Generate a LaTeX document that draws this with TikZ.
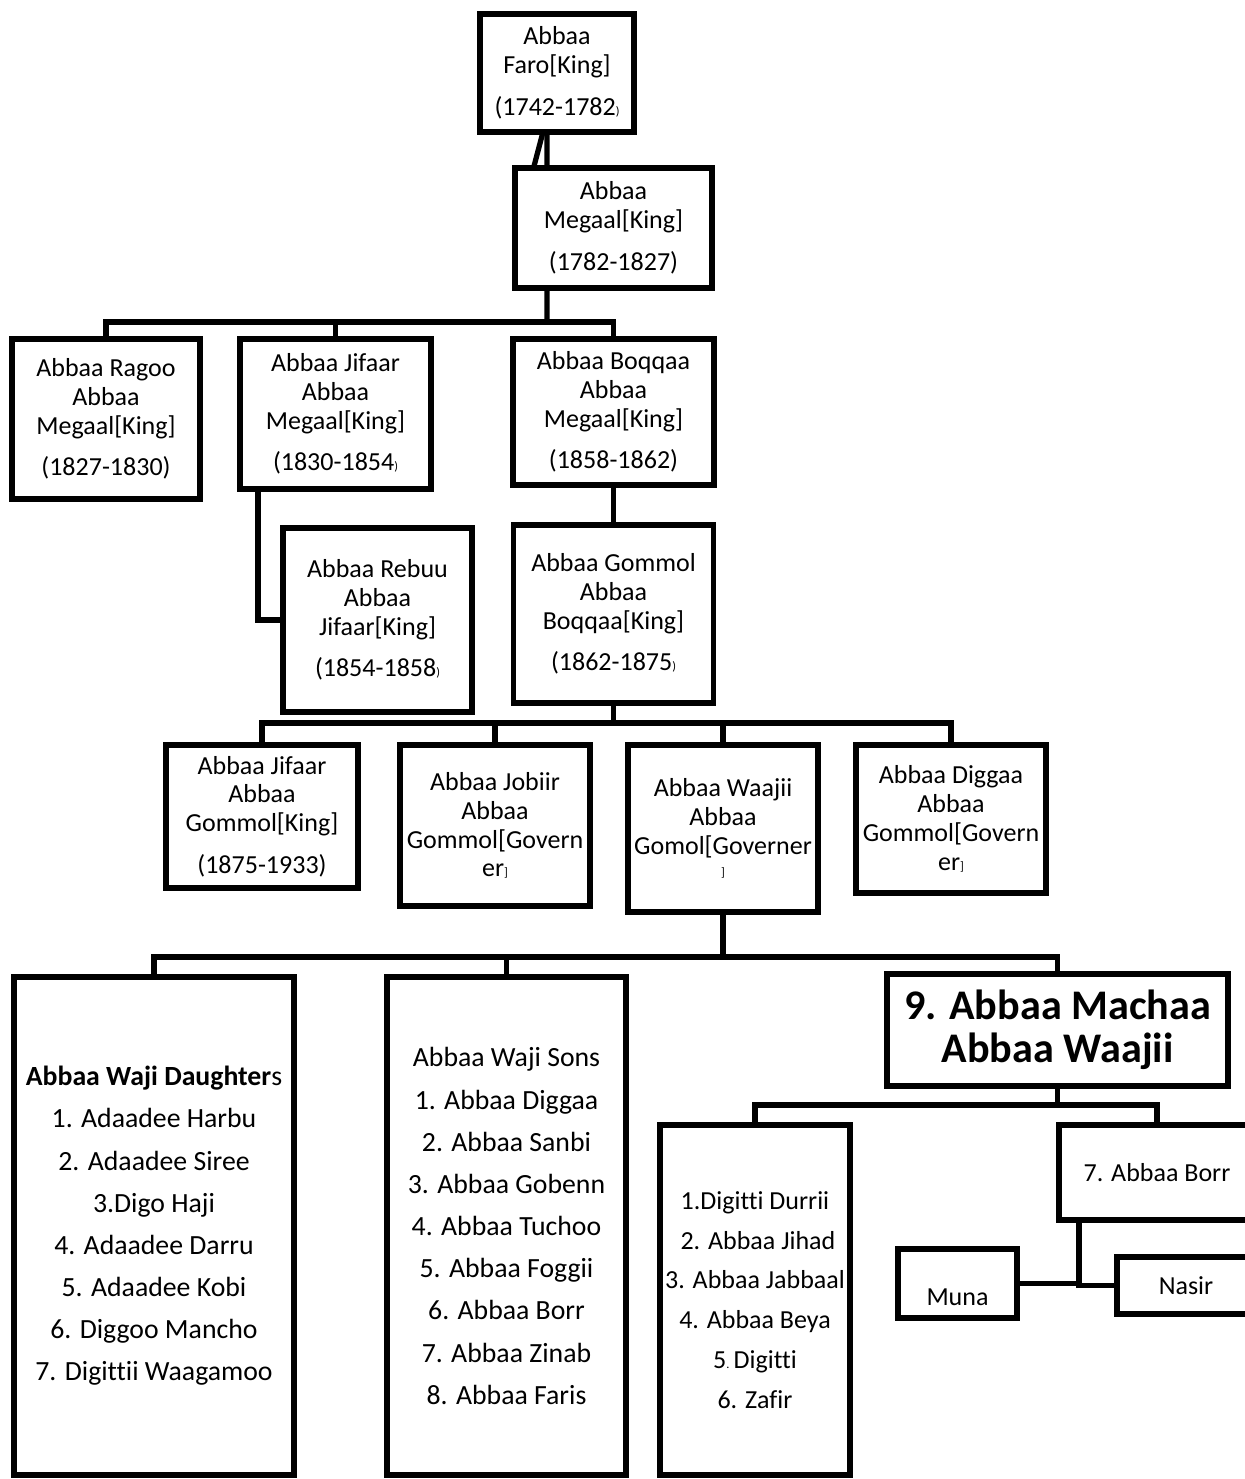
\documentclass[tikz,border=0pt]{standalone}
\usepackage{fontspec}
\setmainfont{Carlito}[Ligatures=CommonOff]
\newcommand{\tinych}[1]{{\fontsize{7}{7}\selectfont #1}}
\begin{document}
\begin{tikzpicture}[x=0.02cm, y=-0.02cm, line width=3pt,
    box/.style={draw, align=center, outer sep=0pt, font=\fontsize{14.8}{16.4}\selectfont},
    listbox/.style={box, font=\fontsize{15.8}{24}\selectfont},
    bigbox/.style={box, font=\fontsize{24}{24.4}\selectfont\bfseries}]
  \tikzstyle{every node}+=[inner sep=0pt]
  \useasboundingbox (0,0) rectangle (1244,1479);
  \node [box, minimum width=3.08cm, minimum height=2.36cm] (faro) at (557,73) {Abbaa\\Faro[King]\\[7.4pt](1742-1782\tinych{)}};
  \node [box, minimum width=3.94cm, minimum height=2.4cm] (megaal) at (613.5,228) {Abbaa\\Megaal[King]\\[7.4pt](1782-1827)};
  \node [box, minimum width=3.76cm, minimum height=3.2cm] (ragoo) at (106,419) {Abbaa Ragoo\\Abbaa\\Megaal[King]\\[7.4pt](1827-1830)};
  \node [box, minimum width=3.82cm, minimum height=3.0cm] (jifaar) at (335.5,414) {Abbaa Jifaar\\Abbaa\\Megaal[King]\\[7.4pt](1830-1854\tinych{)}};
  \node [box, minimum width=4.02cm, minimum height=2.92cm] (boqqaa) at (613.5,412) {Abbaa Boqqaa\\Abbaa\\Megaal[King]\\[7.4pt](1858-1862)};
  \node [box, minimum width=3.78cm, minimum height=3.68cm] (rebuu) at (377.5,620) {Abbaa Rebuu\\Abbaa\\Jifaar[King]\\[7.4pt](1854-1858\tinych{)}};
  \node [box, minimum width=4.0cm, minimum height=3.56cm] (gommol) at (613.5,614) {Abbaa Gommol\\Abbaa\\Boqqaa[King]\\[7.4pt](1862-1875\tinych{)}};
  \node [box, minimum width=3.84cm, minimum height=2.86cm] (jifaarg) at (262,816.5) {Abbaa Jifaar\\Abbaa\\Gommol[King]\\[7.4pt](1875-1933)};
  \node [box, minimum width=3.8cm, minimum height=3.22cm] (jobiir) at (495,825.5) {Abbaa Jobiir\\Abbaa\\Gommol[Govern\\er\tinych{]}};
  \node [box, minimum width=3.8cm, minimum height=3.34cm] (waajii) at (723,828.5) {Abbaa Waajii\\Abbaa\\Gomol[Governer\\[-4pt]\tinych{]}};
  \node [box, minimum width=3.8cm, minimum height=2.96cm] (diggaa) at (951,819) {Abbaa Diggaa\\Abbaa\\Gommol[Govern\\er\tinych{]}};
  \node [listbox, minimum width=5.6cm, minimum height=9.96cm] (daughters) at (154,1226) {\textbf{Abbaa Waji Daughter}s\\1. Adaadee Harbu\\2. Adaadee Siree\\3.Digo Haji\\4. Adaadee Darru\\5. Adaadee Kobi\\6. Diggoo Mancho\\7. Digittii Waagamoo};
  \node [listbox, minimum width=4.78cm, minimum height=9.96cm] (sons) at (506.5,1226) {Abbaa Waji Sons\\1. Abbaa Diggaa\\2. Abbaa Sanbi\\3. Abbaa Gobenn\\4. Abbaa Tuchoo\\5. Abbaa Foggii\\6. Abbaa Borr\\7. Abbaa Zinab\\8. Abbaa Faris};
  \node [bigbox, minimum width=6.82cm, minimum height=2.24cm] (machaa) at (1057.5,1030) {9. Abbaa Machaa\\Abbaa Waajii};
  \node [box, font=\fontsize{14.8}{22.7}\selectfont, minimum width=3.8cm, minimum height=7.0cm] (digitti) at (755,1300) {1.Digitti Durrii\\\ 2. Abbaa Jihad\\3. Abbaa Jabbaal\\4. Abbaa Beya\\5\tinych{.}\,Digitti\\6. Zafir};
  \node [box, minimum width=3.92cm, minimum height=1.9cm] (borr) at (1157,1172.5) {7. Abbaa Borr};
  \node [box, minimum width=2.38cm, minimum height=1.38cm, text height=25pt, text depth=0pt] (muna) at (957.5,1283.5) {Muna};
  \node [box, minimum width=2.76cm, minimum height=1.14cm] (nasir) at (1186,1285.5) {Nasir};
  % connectors
  \draw ([xshift=-0.2cm]faro.south) -- ([xshift=-1.33cm]megaal.north);
  \draw ([xshift=-0.28cm]faro.south) -- ([xshift=-1.6cm]megaal.north);
  \coordinate (bus1) at (547,322);
  \draw ([xshift=-1.33cm]megaal.south) -- (bus1);
  \draw (ragoo.north) |- (bus1) -| (boqqaa.north);
  \draw (jifaar.north) -- (jifaar.north |- bus1);
  \draw ([xshift=-1.55cm]jifaar.south) |- (rebuu.west);
  \draw (boqqaa.south) -- (gommol.north);
  \coordinate (bus2) at (613.5,723);
  \draw (gommol.south) -- (bus2);
  \draw (jifaarg.north) |- (bus2) -| (diggaa.north);
  \draw (jobiir.north) -- (jobiir.north |- bus2);
  \draw (waajii.north) -- (waajii.north |- bus2);
  \coordinate (bus3) at (723,957);
  \draw (waajii.south) -- (bus3);
  \draw (daughters.north) |- (bus3) -| (machaa.north);
  \draw (sons.north) -- (sons.north |- bus3);
  \coordinate (bus4) at (1057.5,1105);
  \draw (machaa.south) -- (bus4);
  \draw (digitti.north) |- (bus4) -| (borr.north);
  \coordinate (fork) at (1079,1284);
  \draw ([xshift=-1.56cm]borr.south) |- (nasir.west);
  \draw (muna.east) -- (muna.east -| fork);
\end{tikzpicture}
\end{document}
